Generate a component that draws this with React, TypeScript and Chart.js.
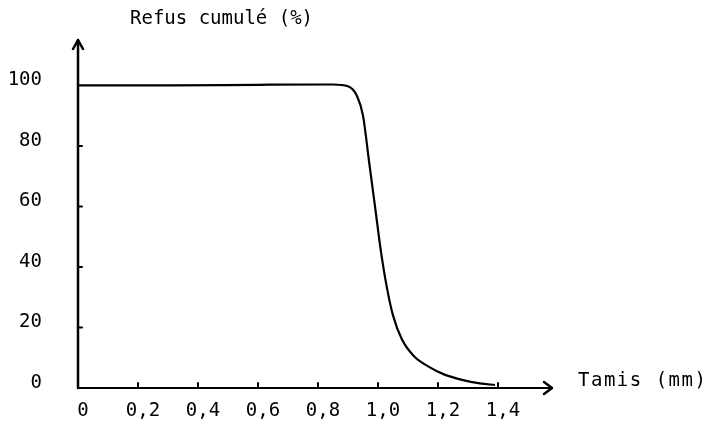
import React, { useEffect, useRef } from "react";
import { Chart, registerables } from "chart.js";

Chart.register(...registerables);

const sieveSizes = [0, 0.3, 0.6, 0.85, 0.9, 0.93, 0.95, 0.97, 0.99, 1.01, 1.03, 1.05, 1.08, 1.12, 1.17, 1.22, 1.28, 1.34, 1.39];
const cumulativeRetained = [100, 100, 100.2, 100.3, 99.7, 96.5, 90, 75, 60, 45, 33, 24, 16, 10.5, 7, 4.5, 2.7, 1.5, 1];
const xTickValues = [0, 0.2, 0.4, 0.6, 0.8, 1.0, 1.2, 1.4];
const yTickValues = [0, 20, 40, 60, 80, 100];
const yTitle = "Refus cumulé (%)";
const xTitle = "Tamis (mm)";

const FONT = "'DejaVu Sans Mono', 'Liberation Mono', monospace";

const axesPlugin = {
  id: "arrowAxes",
  afterDraw(chart: any) {
    const { ctx, chartArea, scales } = chart;
    const xs = scales.x;
    const ys = scales.y;
    const x0 = xs.getPixelForValue(0);
    const y0 = ys.getPixelForValue(0);
    ctx.save();
    ctx.strokeStyle = "#000";
    ctx.fillStyle = "#000";
    ctx.lineWidth = 2.5;
    ctx.lineCap = "round";
    ctx.lineJoin = "round";
    // y axis
    ctx.beginPath();
    ctx.moveTo(x0, y0);
    ctx.lineTo(x0, chartArea.top);
    ctx.stroke();
    ctx.beginPath();
    ctx.moveTo(x0 - 5, chartArea.top + 9);
    ctx.lineTo(x0, chartArea.top);
    ctx.lineTo(x0 + 5, chartArea.top + 9);
    ctx.stroke();
    // x axis
    ctx.lineWidth = 2;
    ctx.beginPath();
    ctx.moveTo(x0, y0);
    ctx.lineTo(chartArea.right, y0);
    ctx.stroke();
    ctx.lineWidth = 2.5;
    ctx.beginPath();
    ctx.moveTo(chartArea.right - 8, y0 - 6);
    ctx.lineTo(chartArea.right, y0);
    ctx.lineTo(chartArea.right - 8, y0 + 6);
    ctx.stroke();
    // ticks
    ctx.lineWidth = 2;
    xTickValues.forEach((v) => {
      if (v === 0) return;
      const px = xs.getPixelForValue(v);
      ctx.beginPath();
      ctx.moveTo(px, y0);
      ctx.lineTo(px, y0 - 5);
      ctx.stroke();
    });
    yTickValues.forEach((v) => {
      if (v === 0 || v === 100) return;
      const py = ys.getPixelForValue(v);
      ctx.beginPath();
      ctx.moveTo(x0, py);
      ctx.lineTo(x0 + 4, py);
      ctx.stroke();
    });
    // titles
    ctx.font = `19px ${FONT}`;
    ctx.textBaseline = "middle";
    ctx.textAlign = "left";
    ctx.fillText(yTitle, 130, 19);
    (ctx as any).letterSpacing = "1.5px";
    ctx.fillText(xTitle, 578, 381);
    ctx.restore();
  },
};

export default function App() {
  const ref = useRef<HTMLCanvasElement | null>(null);
  useEffect(() => {
    if (!ref.current) return;
    const chart = new Chart(ref.current, {
      type: "line",
      data: {
        datasets: [
          {
            data: sieveSizes.map((x, i) => ({ x, y: cumulativeRetained[i] })),
            borderColor: "#000",
            borderWidth: 2.2,
            pointRadius: 0,
            cubicInterpolationMode: "monotone",
            fill: false,
          },
        ],
      },
      options: {
        animation: false,
        responsive: false,
        maintainAspectRatio: false,
        layout: { padding: { left: 0, top: 40, right: 718 - 552, bottom: 0 } },
        plugins: { legend: { display: false }, tooltip: { enabled: false } },
        scales: {
          x: {
            type: "linear",
            min: 0,
            max: 1.58,
            afterFit: (s: any) => {
              s.height = 40;
              s.paddingLeft = 0;
              s.paddingRight = 0;
            },
            afterBuildTicks: (s: any) => {
              s.ticks = xTickValues.map((v) => ({ value: v }));
            },
            grid: { display: false, drawTicks: false },
            border: { display: false },
            ticks: {
              padding: 12,
              labelOffset: 5,
              color: "#000",
              font: { family: FONT, size: 19 },
              maxRotation: 0,
              autoSkip: false,
              callback: (v: any) => (Number(v) === 0 ? "0" : Number(v).toFixed(1).replace(".", ",")),
            },
          },
          y: {
            type: "linear",
            min: 0,
            max: 115,
            afterFit: (s: any) => {
              s.width = 78;
              s.paddingTop = 0;
              s.paddingBottom = 0;
            },
            afterBuildTicks: (s: any) => {
              s.ticks = yTickValues.map((v) => ({ value: v }));
            },
            grid: { display: false, drawTicks: false },
            border: { display: false },
            ticks: {
              padding: 36,
              labelOffset: -5,
              color: "#000",
              font: { family: FONT, size: 19 },
              autoSkip: false,
              callback: (v: any) => String(v),
            },
          },
        },
      },
      plugins: [axesPlugin],
    });
    return () => chart.destroy();
  }, []);
  return (
    <div style={{ position: "fixed", left: 0, top: 0, width: 718, height: 428, background: "#fff" }}>
      <canvas ref={ref} width={718} height={428} style={{ width: 718, height: 428 }} />
    </div>
  );
}
